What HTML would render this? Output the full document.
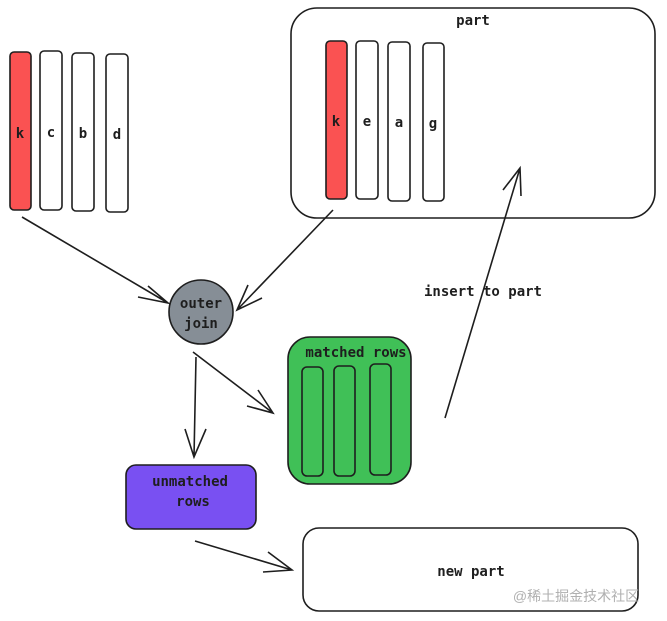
<!DOCTYPE html>
<html><head><meta charset="utf-8"><style>
html,body{margin:0;padding:0;background:#fff;width:667px;height:621px;overflow:hidden}
text{font-family:"DejaVu Sans Mono","Liberation Mono",monospace;font-size:14px;font-weight:bold;fill:#1e1e1e}
</style></head><body>
<svg width="667" height="621" viewBox="0 0 667 621" xmlns="http://www.w3.org/2000/svg">
<g stroke="#1e1e1e" stroke-width="1.6" fill="none">
<rect x="10" y="52" width="21" height="158" rx="4" fill="#fa5252"/>
<rect x="40" y="51" width="22" height="159" rx="4" fill="#fff"/>
<rect x="72" y="53" width="22" height="158" rx="4" fill="#fff"/>
<rect x="106" y="54" width="22" height="158" rx="4" fill="#fff"/>
<rect x="291" y="8" width="364" height="210" rx="26" fill="#fff"/>
<rect x="326" y="41" width="21" height="158" rx="4" fill="#fa5252"/>
<rect x="356" y="41" width="22" height="158" rx="4" fill="#fff"/>
<rect x="388" y="42" width="22" height="159" rx="4" fill="#fff"/>
<rect x="423" y="43" width="21" height="158" rx="4" fill="#fff"/>
<circle cx="201" cy="312" r="32" fill="#868e96"/>
<rect x="288" y="337" width="123" height="147" rx="22" fill="#40c057"/>
<rect x="302" y="367" width="21" height="109" rx="5"/>
<rect x="334" y="366" width="21" height="110" rx="5"/>
<rect x="370" y="364" width="21" height="111" rx="5"/>
<rect x="126" y="465" width="130" height="64" rx="10" fill="#7950f2"/>
<rect x="303" y="528" width="335" height="83" rx="16" fill="#fff"/>
<path d="M22 217 L168 303 M148 286 L168 303 L138 297"/>
<path d="M333 210 L237 310 M248 285 L237 310 L262 298"/>
<path d="M193 352 L273 413 M258 390 L273 413 L247 406"/>
<path d="M196 357 L194 457 M185 429 L194 457 L206 429"/>
<path d="M195 541 L292 570 M268 552 L292 570 L263 572"/>
<path d="M445 418 L520 168 M503 190 L520 168 L521 196"/>
</g>
<text x="20" y="138" text-anchor="middle">k</text>
<text x="51" y="137" text-anchor="middle">c</text>
<text x="83" y="138" text-anchor="middle">b</text>
<text x="117" y="139" text-anchor="middle">d</text>
<text x="473" y="25" text-anchor="middle">part</text>
<text x="336" y="126" text-anchor="middle">k</text>
<text x="367" y="126" text-anchor="middle">e</text>
<text x="399" y="127" text-anchor="middle">a</text>
<text x="433" y="128" text-anchor="middle">g</text>
<text x="201" y="308" text-anchor="middle">outer</text>
<text x="201" y="328" text-anchor="middle">join</text>
<text x="483" y="296" text-anchor="middle">insert to part</text>
<text x="356" y="357" text-anchor="middle">matched rows</text>
<text x="190" y="486" text-anchor="middle">unmatched</text>
<text x="193" y="506" text-anchor="middle">rows</text>
<text x="471" y="576" text-anchor="middle">new part</text>
<text x="576" y="601" text-anchor="middle" style="font-family:'Liberation Sans','Noto Sans CJK SC',sans-serif;font-size:14px;font-weight:normal;fill:#b0b0b0">@稀土掘金技术社区</text>
</svg>
</body></html>
